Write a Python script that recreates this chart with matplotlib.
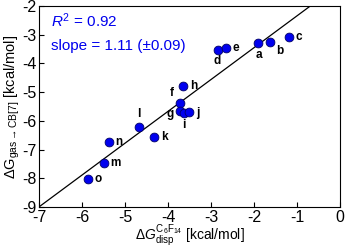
import numpy as np
import matplotlib
matplotlib.use("Agg")
import matplotlib.pyplot as plt

# data
labels = ["a", "b", "c", "d", "e", "f", "g", "h", "i", "j", "k", "l", "m", "n", "o"]
dg_disp = [-1.92, -1.62, -1.20, -2.85, -2.66, -3.73, -3.73, -3.66, -3.64, -3.52,
           -4.33, -4.68, -5.50, -5.38, -5.86]
dg_gas = [-3.29, -3.25, -3.08, -3.53, -3.46, -5.38, -5.66, -4.79, -5.73, -5.69,
          -6.56, -6.22, -7.47, -6.74, -8.03]
fit_slope = 1.11
fit_icept = -1.23

# label offsets in points (dx, dy, ha, va)
offsets = {
    "a": (1, -4, "center", "top"), "b": (4, -2, "left", "top"),
    "c": (5, 0, "left", "center"), "d": (0, -4, "center", "top"),
    "e": (5, 0, "left", "center"), "f": (-4, 3, "right", "bottom"),
    "g": (-4, -2, "right", "center"), "h": (5, 0, "left", "center"),
    "i": (0, -4, "center", "top"), "j": (5, -1, "left", "center"),
    "k": (5, 0, "left", "center"), "l": (0, 5, "center", "bottom"),
    "m": (5, 0, "left", "center"), "n": (5, 0, "left", "center"),
    "o": (5, 0, "left", "center"),
}

plt.rcParams.update({
    "font.family": "Liberation Sans",
    "mathtext.fontset": "custom",
    "mathtext.rm": "Liberation Sans",
    "mathtext.it": "Liberation Sans:italic",
    "mathtext.bf": "Liberation Sans:bold",
    "axes.unicode_minus": False,
    "font.size": 10,
})

fig = plt.figure(figsize=(3.45, 2.49), dpi=100)
ax = fig.add_axes([0.113, 0.169, 0.873, 0.807])

xl = np.array([-7.0, 0.0])
ax.plot(xl, fit_slope * xl + fit_icept, color="black", lw=0.9, zorder=1)
ax.scatter(dg_disp, dg_gas, s=40, color="#0000ee", edgecolor="#000066",
           linewidth=0.6, zorder=3)
for lab, x, y in zip(labels, dg_disp, dg_gas):
    dx, dy, ha, va = offsets[lab]
    ax.annotate(lab, (x, y), xytext=(dx, dy), textcoords="offset points",
                ha=ha, va=va, fontsize=8.5, fontweight="bold")

ax.text(0.04, 0.925, "$R^2$ = 0.92", color="#0000ee", transform=ax.transAxes,
        fontsize=11, va="center")
ax.text(0.04, 0.80, "slope = 1.11 (\u00b10.09)", color="#0000ee",
        transform=ax.transAxes, fontsize=11, va="center")

ax.set_xlim(-7, 0)
ax.set_ylim(-9, -2)
ax.set_xticks(range(-7, 1))
ax.set_yticks(range(-9, -1))
ax.tick_params(direction="in", length=3.5, width=0.8, top=False, right=False,
               pad=2, labelsize=11.5)
for sp in ax.spines.values():
    sp.set_linewidth(0.8)

ax.set_xlabel(r"$\Delta G_{\mathrm{disp}}^{\mathrm{C_6F_{14}}}$ [kcal/mol]",
              fontsize=10, labelpad=-1)
ax.set_ylabel(r"$\Delta \mathrm{G}_{\mathrm{gas}\rightarrow\mathrm{CB[7]}}$ [kcal/mol]",
              fontsize=10.5, labelpad=0)

fig.savefig("out.png", dpi=100)
